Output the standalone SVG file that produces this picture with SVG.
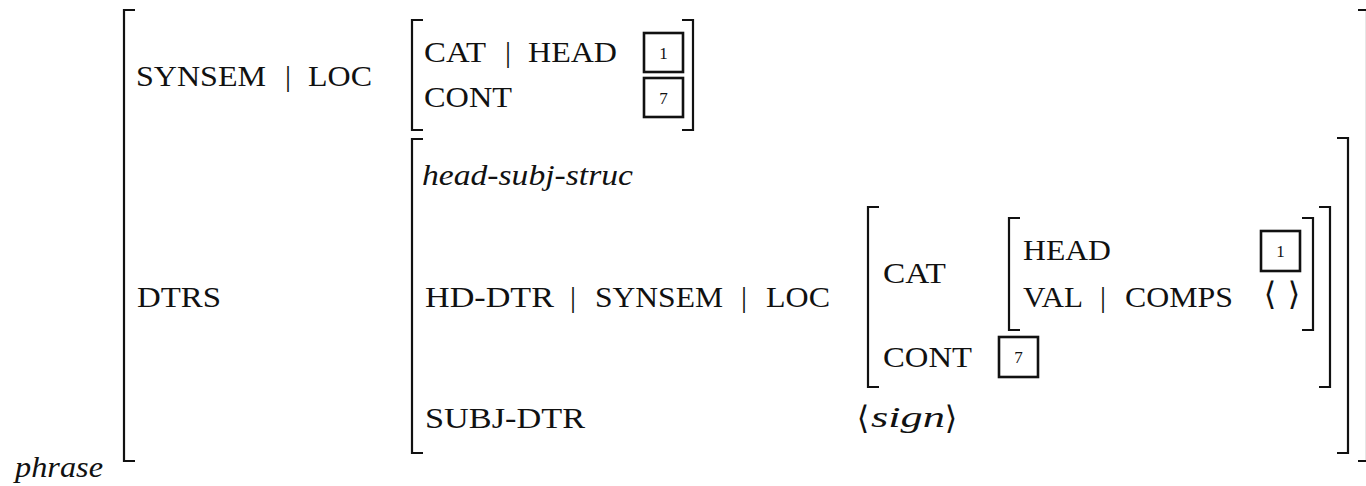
<svg xmlns="http://www.w3.org/2000/svg" width="1366" height="486" viewBox="0 0 1366 486">
<style>
text{font-family:'Liberation Serif',serif;fill:#111}
.t{font-size:30px}
.i{font-size:30px;font-style:italic}
.n{font-size:17px;text-anchor:middle}
.b{fill:none;stroke:#111;stroke-width:2.2}
.box{fill:none;stroke:#111;stroke-width:2.6}
.m{font-family:'DejaVu Serif','DejaVu Sans',serif;font-size:32px;text-anchor:middle}
.bar{text-anchor:middle}
</style>
<rect width="1366" height="486" fill="#fff"/>
<g id="outer">
<path class="b" d="M135,10 H124 V461 H135"/>
<path class="b" d="M1358,10 H1367 V461 H1358"/>
<text class="i" x="15" y="477" textLength="88" lengthAdjust="spacingAndGlyphs">phrase</text>
</g>
<g id="synsem-row">
<text class="t" x="136" y="86" textLength="130" lengthAdjust="spacingAndGlyphs">SYNSEM</text>
<text class="t bar" x="288" y="86">|</text>
<text class="t" x="308" y="86" textLength="64" lengthAdjust="spacingAndGlyphs">LOC</text>
</g>
<g id="synsem-value">
<path class="b" d="M423,20 H412 V130 H423"/>
<path class="b" d="M682,20 H693 V130 H682"/>
<text class="t" x="424" y="62" textLength="62" lengthAdjust="spacingAndGlyphs">CAT</text>
<text class="t bar" x="508" y="62">|</text>
<text class="t" x="528" y="62" textLength="89" lengthAdjust="spacingAndGlyphs">HEAD</text>
<text class="t" x="424" y="107" textLength="88" lengthAdjust="spacingAndGlyphs">CONT</text>
<rect class="box" x="644" y="33" width="39" height="39"/>
<text class="n" x="663.5" y="58.5">1</text>
<rect class="box" x="644" y="78" width="39" height="39"/>
<text class="n" x="663.5" y="103.5">7</text>
</g>
<g id="dtrs-row">
<text class="t" x="137" y="307" textLength="84" lengthAdjust="spacingAndGlyphs">DTRS</text>
</g>
<g id="dtrs-value">
<path class="b" d="M423,139 H412 V453 H423"/>
<path class="b" d="M1337,138 H1348 V453 H1337"/>
<text class="i" x="422" y="185" textLength="211" lengthAdjust="spacingAndGlyphs">head-subj-struc</text>
<text class="t" x="425" y="307" textLength="129" lengthAdjust="spacingAndGlyphs">HD-DTR</text>
<text class="t bar" x="573" y="307">|</text>
<text class="t" x="595" y="307" textLength="128" lengthAdjust="spacingAndGlyphs">SYNSEM</text>
<text class="t bar" x="744" y="307">|</text>
<text class="t" x="766" y="307" textLength="64" lengthAdjust="spacingAndGlyphs">LOC</text>
<text class="t" x="425" y="428" textLength="160" lengthAdjust="spacingAndGlyphs">SUBJ-DTR</text>
</g>
<g id="hd-dtr-value">
<path class="b" d="M879,207 H868 V387 H879"/>
<path class="b" d="M1319,207 H1330 V387 H1319"/>
<text class="t" x="883" y="283" textLength="63" lengthAdjust="spacingAndGlyphs">CAT</text>
<text class="t" x="883" y="367" textLength="89" lengthAdjust="spacingAndGlyphs">CONT</text>
<rect class="box" x="999" y="337" width="39" height="40"/>
<text class="n" x="1018.5" y="363">7</text>
</g>
<g id="cat-value">
<path class="b" d="M1020,218 H1009 V330 H1020"/>
<path class="b" d="M1302,218 H1313 V330 H1302"/>
<text class="t" x="1023" y="260" textLength="88" lengthAdjust="spacingAndGlyphs">HEAD</text>
<text class="t" x="1023" y="307" textLength="60" lengthAdjust="spacingAndGlyphs">VAL</text>
<text class="t bar" x="1103" y="307">|</text>
<text class="t" x="1125" y="307" textLength="108" lengthAdjust="spacingAndGlyphs">COMPS</text>
<rect class="box" x="1261" y="231" width="39" height="40"/>
<text class="n" x="1280.5" y="257">1</text>
<text class="m" x="1270" y="305">⟨</text>
<text class="m" x="1294" y="305">⟩</text>
</g>
<g id="subj-dtr-value">
<text class="m" x="863" y="429">⟨</text>
<text class="i" x="871" y="427" textLength="74" lengthAdjust="spacingAndGlyphs">sign</text>
<text class="m" x="951" y="429">⟩</text>
</g>
<g id="connectors"/>
</svg>
